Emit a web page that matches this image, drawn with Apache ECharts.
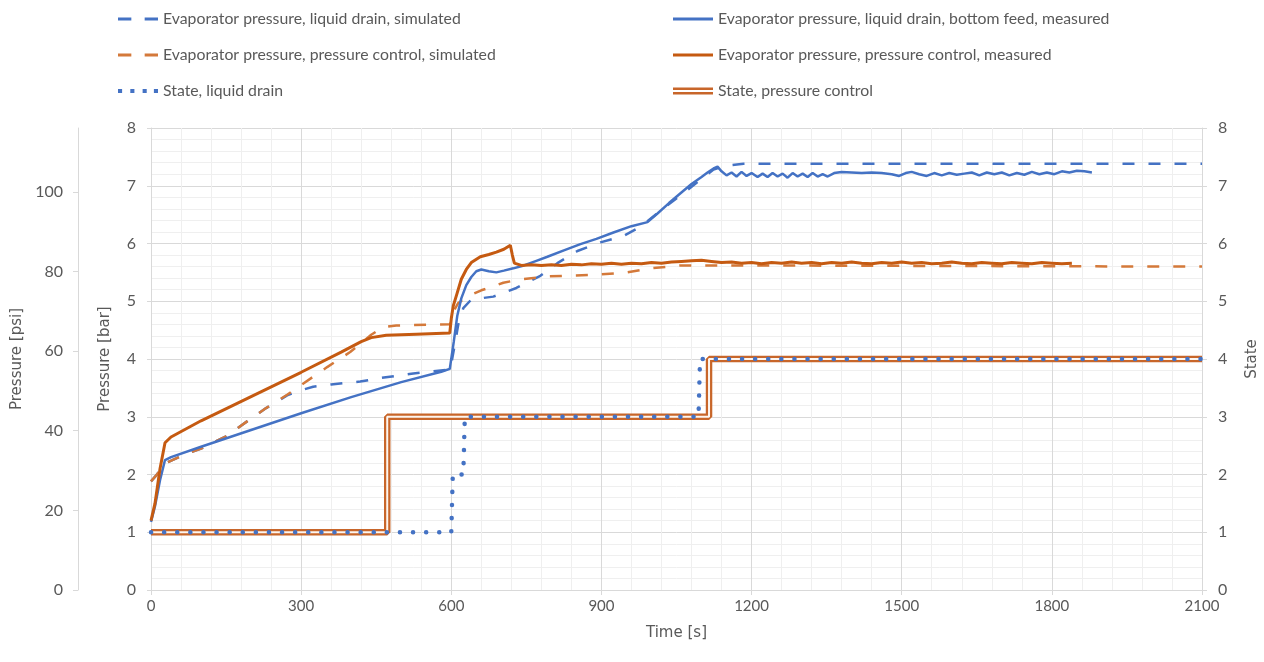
<!DOCTYPE html>
<html>
<head>
<meta charset="utf-8">
<title>Evaporator pressure and state</title>
<script src="https://cdn.jsdelivr.net/npm/echarts@6/dist/echarts.min.js"></script>
<style>
  html, body { margin: 0; padding: 0; background: #ffffff; }
  #chart { width: 1264px; height: 662px; }
</style>
</head>
<body>
<div id="chart"></div>
<script>
// Time axis [s]
const timeMin = 0;
const timeMax = 2100;
const timeStep = 300;

// Pressure [bar] and state axes
const barMax = 8;
const stateMax = 8;
const psiPerBar = 14.5038;
const psiStep = 20;

// Series names
const nameLdSim = 'Evaporator pressure, liquid drain, simulated';
const namePcSim = 'Evaporator pressure, pressure control, simulated';
const nameLdState = 'State, liquid drain';
const nameLdMeas = 'Evaporator pressure, liquid drain, bottom feed, measured';
const namePcMeas = 'Evaporator pressure, pressure control, measured';
const namePcState = 'State, pressure control';

// Evaporator pressure, liquid drain, simulated [t, bar]
const ldSimulated = [
  [0, 1.88], [10, 1.98], [20, 2.1], [30, 2.2], [60, 2.32], [100, 2.45], [150, 2.66],
  [192, 2.92], [230, 3.15], [272, 3.37], [300, 3.46], [324, 3.52], [360, 3.56],
  [418, 3.61], [458, 3.67], [524, 3.75], [598, 3.82], [606, 4.2], [614, 4.6],
  [624, 4.88], [640, 5.03], [684, 5.08], [730, 5.23], [778, 5.44], [812, 5.66],
  [852, 5.87], [898, 6.02], [944, 6.13], [980, 6.3], [1018, 6.57], [1064, 6.87],
  [1100, 7.12], [1124, 7.28], [1150, 7.35], [1184, 7.38], [1400, 7.38], [2100, 7.38]
];

// Evaporator pressure, pressure control, simulated [t, bar]
const pcSimulated = [
  [0, 1.88], [10, 1.98], [20, 2.1], [30, 2.2], [60, 2.32], [100, 2.45], [150, 2.66],
  [192, 2.92], [230, 3.15], [272, 3.38], [300, 3.55], [352, 3.86], [398, 4.12],
  [440, 4.42], [464, 4.55], [490, 4.58], [598, 4.6], [604, 4.82], [614, 4.97],
  [632, 5.08], [660, 5.19], [678, 5.24], [704, 5.32], [732, 5.37], [792, 5.43],
  [892, 5.46], [952, 5.5], [998, 5.57], [1058, 5.62], [1118, 5.62], [1200, 5.62],
  [1600, 5.61], [2100, 5.6]
];

// Evaporator pressure, liquid drain, bottom feed, measured [t, bar]
const ldMeasured = [
  [0, 1.18], [8, 1.45], [18, 1.9], [28, 2.25], [40, 2.3], [100, 2.48], [200, 2.77],
  [300, 3.06], [400, 3.34], [500, 3.6], [580, 3.78], [597, 3.83], [605, 4.3],
  [612, 4.75], [620, 5.05], [630, 5.28], [640, 5.42], [650, 5.52], [660, 5.55],
  [675, 5.52], [690, 5.5], [705, 5.53], [724, 5.57], [745, 5.62], [770, 5.7],
  [792, 5.77], [825, 5.88], [858, 5.99], [890, 6.08], [924, 6.19], [960, 6.3],
  [992, 6.37], [1012, 6.52], [1035, 6.7], [1058, 6.87], [1080, 7.03], [1100, 7.15],
  [1112, 7.23], [1124, 7.3], [1132, 7.33], [1140, 7.25], [1150, 7.18],
  [1160, 7.23], [1170, 7.16], [1180, 7.24], [1190, 7.17], [1200, 7.22], [1212, 7.15],
  [1222, 7.21], [1232, 7.15], [1242, 7.22], [1252, 7.16], [1262, 7.21], [1272, 7.14],
  [1282, 7.22], [1292, 7.16], [1302, 7.21], [1312, 7.15], [1322, 7.22], [1332, 7.16],
  [1342, 7.2], [1352, 7.16], [1365, 7.22], [1380, 7.24], [1400, 7.23], [1420, 7.22],
  [1440, 7.23], [1460, 7.22], [1480, 7.2], [1495, 7.17], [1508, 7.22], [1520, 7.24],
  [1535, 7.2], [1550, 7.17], [1565, 7.22], [1580, 7.18], [1595, 7.22], [1610, 7.19],
  [1625, 7.21], [1640, 7.23], [1655, 7.18], [1670, 7.23], [1685, 7.2], [1700, 7.23],
  [1715, 7.18], [1730, 7.22], [1745, 7.19], [1760, 7.24], [1775, 7.2], [1790, 7.23],
  [1805, 7.2], [1820, 7.25], [1835, 7.23], [1850, 7.26], [1865, 7.25], [1880, 7.23]
];

// Evaporator pressure, pressure control, measured [t, bar]
const pcMeasured = [
  [0, 1.2], [8, 1.5], [18, 2.1], [28, 2.55], [40, 2.65], [100, 2.93], [200, 3.35],
  [300, 3.77], [380, 4.12], [420, 4.3], [440, 4.37], [470, 4.41], [530, 4.43],
  [597, 4.45], [600, 4.7], [604, 4.92], [612, 5.15], [620, 5.38], [630, 5.55],
  [640, 5.67], [658, 5.77], [675, 5.81], [690, 5.85], [705, 5.9], [718, 5.97],
  [722, 5.8], [726, 5.66], [740, 5.62], [760, 5.63], [780, 5.62], [800, 5.63],
  [820, 5.62], [840, 5.64], [860, 5.63], [880, 5.65], [900, 5.64], [920, 5.66],
  [940, 5.64], [960, 5.66], [980, 5.65], [1000, 5.67], [1020, 5.66], [1040, 5.68],
  [1060, 5.69], [1080, 5.7], [1100, 5.71], [1120, 5.69], [1140, 5.67], [1160, 5.68],
  [1180, 5.66], [1200, 5.67], [1220, 5.65], [1240, 5.67], [1260, 5.66], [1280, 5.68],
  [1300, 5.66], [1320, 5.67], [1340, 5.65], [1360, 5.67], [1380, 5.66], [1400, 5.68],
  [1420, 5.66], [1440, 5.65], [1460, 5.67], [1480, 5.66], [1500, 5.68], [1520, 5.66],
  [1540, 5.67], [1560, 5.65], [1580, 5.66], [1600, 5.68], [1620, 5.66], [1640, 5.65],
  [1660, 5.67], [1680, 5.66], [1700, 5.65], [1720, 5.67], [1740, 5.66], [1760, 5.65],
  [1780, 5.67], [1800, 5.66], [1820, 5.65], [1840, 5.66]
];

// Operating state, liquid drain [t, state]
const ldState = [
  [0, 1], [600, 1], [603, 2], [624, 2], [627, 3], [1094, 3], [1097, 4], [2100, 4]
];

// Operating state, pressure control [t, state]
const pcState = [
  [0, 1], [472, 1], [472, 3], [1115, 3], [1115, 4], [2100, 4]
];

const textColor = '#595959';
const gridMajor = '#d9d9d9';
const gridMinor = '#efefef';
const fontFamily = 'Lato, "Open Sans", sans-serif';
const titleFont = '"DejaVu Sans", sans-serif';
const blue = '#4472C4';
const orangeDark = '#C55A11';
const orangeSim = '#D4793A';
const stateOrange = '#C8662A';

const chart = echarts.init(document.getElementById('chart'), null, { renderer: 'canvas' });

const yLabelStyle = { color: textColor, fontSize: 16, fontFamily: fontFamily };
const xLabelStyle = { color: textColor, fontSize: 15, fontFamily: fontFamily };
const nameStyle = { color: textColor, fontSize: 15, fontFamily: titleFont };
const plainNumber = function (v) { return String(v); };

// Legend icons drawn as paths so each matches its stroke pattern
const iconSolid = 'path://M0,0L40,0L40,3L0,3Z';
const iconDashed = 'path://M0,0L13,0L13,3L0,3Z M26,0L39,0L39,3L26,3Z';
const iconDotted = 'path://M0,0L4,0L4,4L0,4Z M12,0L16,0L16,4L12,4Z M24,0L28,0L28,4L24,4Z M35,0L39,0L39,4L35,4Z';
const iconDouble = 'path://M0,0L40,0L40,7L0,7Z M0,2.5L0,4.5L40,4.5L40,2.5Z';

const legendCommon = {
  orient: 'vertical',
  top: 11,
  padding: 0,
  itemWidth: 40,
  itemHeight: 14,
  itemGap: 20,
  textStyle: { color: textColor, fontSize: 15.8, fontFamily: fontFamily },
  selectedMode: false
};

const option = {
  animation: false,
  backgroundColor: '#ffffff',
  textStyle: { fontFamily: fontFamily },
  legend: [
    Object.assign({}, legendCommon, {
      left: 118,
      data: [
        { name: nameLdSim, icon: iconDashed },
        { name: namePcSim, icon: iconDashed },
        { name: nameLdState, icon: iconDotted }
      ]
    }),
    Object.assign({}, legendCommon, {
      left: 673,
      data: [
        { name: nameLdMeas, icon: iconSolid },
        { name: namePcMeas, icon: iconSolid },
        { name: namePcState, icon: iconDouble }
      ]
    })
  ],
  grid: {
    left: 151,
    right: 62,
    top: 128,
    bottom: 72,
    containLabel: false,
    outerBoundsMode: 'none'
  },
  xAxis: {
    type: 'value',
    min: timeMin,
    max: timeMax,
    interval: timeStep,
    name: 'Time [s]',
    nameLocation: 'middle',
    nameGap: 36,
    nameTextStyle: nameStyle,
    axisLine: { show: true, lineStyle: { color: gridMajor, width: 1 } },
    axisTick: { show: true, length: 5, lineStyle: { color: gridMajor } },
    axisLabel: Object.assign({ margin: 9, formatter: plainNumber }, xLabelStyle),
    splitLine: { show: true, lineStyle: { color: gridMajor, width: 1 } },
    minorTick: { show: false, splitNumber: 5 },
    minorSplitLine: { show: true, lineStyle: { color: gridMinor, width: 1 } }
  },
  yAxis: [
    {
      // Pressure [bar]
      type: 'value',
      position: 'left',
      min: 0,
      max: barMax,
      interval: 1,
      name: 'Pressure [bar]',
      nameLocation: 'middle',
      nameGap: 38,
      nameTextStyle: nameStyle,
      axisLine: { show: true, lineStyle: { color: gridMajor } },
      axisTick: { show: true, length: 4, lineStyle: { color: gridMajor } },
      axisLabel: Object.assign({ margin: 15, formatter: plainNumber }, yLabelStyle),
      splitLine: { show: true, lineStyle: { color: gridMajor, width: 1 } },
      minorTick: { show: false, splitNumber: 5 },
      minorSplitLine: { show: true, lineStyle: { color: gridMinor, width: 1 } }
    },
    {
      // State
      type: 'value',
      position: 'right',
      min: 0,
      max: stateMax,
      interval: 1,
      name: 'State',
      nameLocation: 'middle',
      nameGap: 43,
      nameTextStyle: nameStyle,
      axisLine: { show: true, lineStyle: { color: gridMajor } },
      axisTick: { show: true, length: 5, lineStyle: { color: gridMajor } },
      axisLabel: Object.assign({ margin: 16, formatter: plainNumber }, yLabelStyle),
      splitLine: { show: false }
    },
    {
      // Pressure [psi], same scale as the bar axis
      type: 'value',
      position: 'left',
      offset: 73,
      min: 0,
      max: barMax * psiPerBar,
      interval: psiStep,
      name: 'Pressure [psi]',
      nameLocation: 'middle',
      nameGap: 41,
      nameTextStyle: nameStyle,
      axisLine: { show: true, lineStyle: { color: gridMajor } },
      axisTick: { show: true, length: 5, lineStyle: { color: gridMajor } },
      axisLabel: Object.assign({
        margin: 15,
        showMaxLabel: false,
        formatter: function (v) { return (Math.abs(v % psiStep) < 1e-6) ? String(v) : ''; }
      }, yLabelStyle),
      splitLine: { show: false }
    }
  ],
  series: [
    {
      name: namePcState,
      type: 'line',
      yAxisIndex: 1,
      data: pcState,
      showSymbol: false,
      symbol: 'none',
      z: 2,
      itemStyle: { color: stateOrange },
      lineStyle: { color: stateOrange, width: 6.5 }
    },
    {
      name: 'pcStateInner',
      type: 'line',
      yAxisIndex: 1,
      data: pcState,
      showSymbol: false,
      symbol: 'none',
      silent: true,
      z: 3,
      itemStyle: { color: '#ffffff' },
      lineStyle: { color: '#fdf6f0', width: 2 }
    },
    {
      name: nameLdState,
      type: 'line',
      yAxisIndex: 1,
      data: ldState,
      showSymbol: false,
      symbol: 'none',
      z: 4,
      itemStyle: { color: blue },
      lineStyle: { color: blue, width: 4.5, type: [0.1, 13], cap: 'round' }
    },
    {
      name: nameLdSim,
      type: 'line',
      yAxisIndex: 0,
      data: ldSimulated,
      showSymbol: false,
      symbol: 'none',
      z: 5,
      itemStyle: { color: blue },
      lineStyle: { color: blue, width: 2.5, type: [12, 14] }
    },
    {
      name: namePcSim,
      type: 'line',
      yAxisIndex: 0,
      data: pcSimulated,
      showSymbol: false,
      symbol: 'none',
      z: 6,
      itemStyle: { color: orangeSim },
      lineStyle: { color: orangeSim, width: 2.5, type: [12, 14] }
    },
    {
      name: nameLdMeas,
      type: 'line',
      yAxisIndex: 0,
      data: ldMeasured,
      showSymbol: false,
      symbol: 'none',
      z: 7,
      itemStyle: { color: blue },
      lineStyle: { color: blue, width: 2.5 }
    },
    {
      name: namePcMeas,
      type: 'line',
      yAxisIndex: 0,
      data: pcMeasured,
      showSymbol: false,
      symbol: 'none',
      z: 8,
      itemStyle: { color: orangeDark },
      lineStyle: { color: orangeDark, width: 3 }
    }
  ]
};

chart.setOption(option);
</script>
</body>
</html>
